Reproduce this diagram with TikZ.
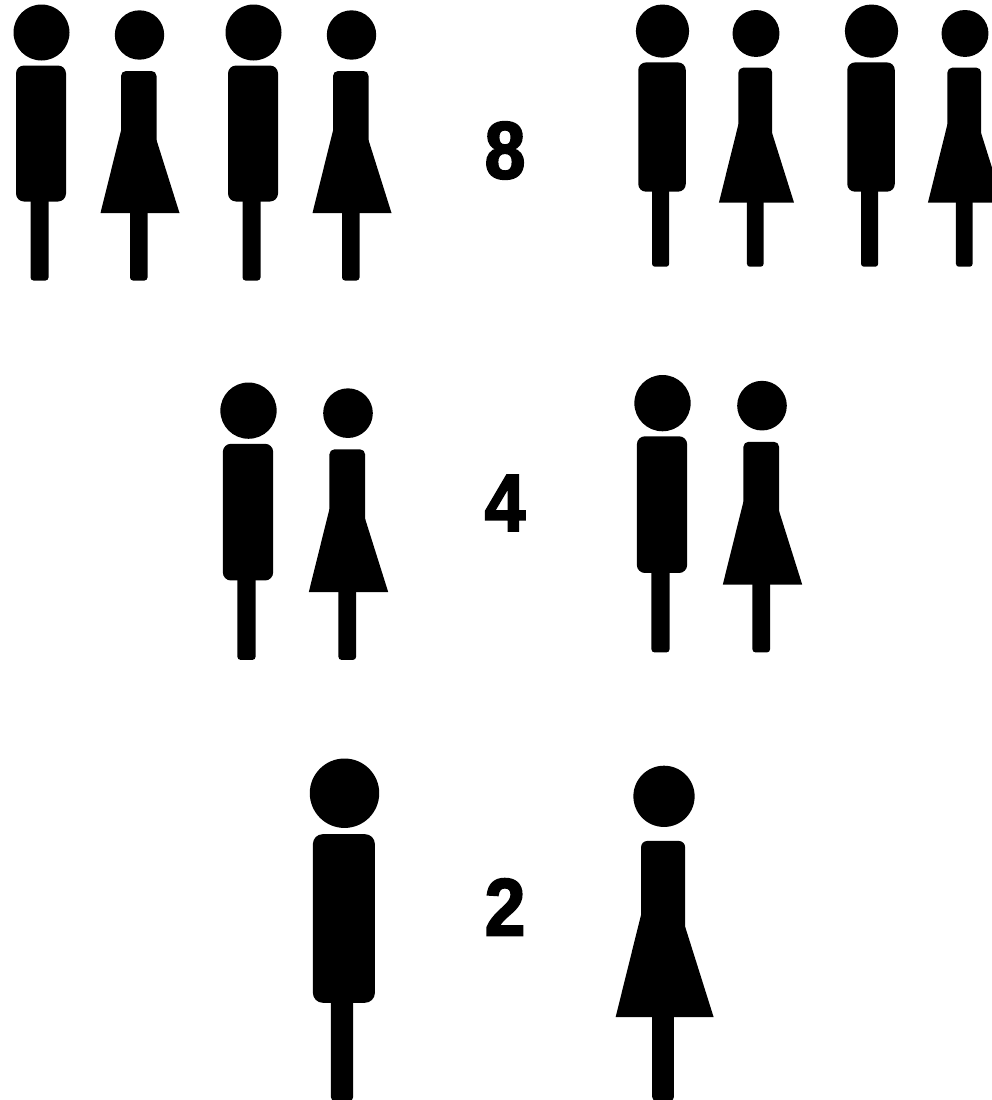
\documentclass[tikz,border=0pt]{standalone}
\usepackage{fontspec}
\newfontfamily\digitfont[FakeBold=2.5,FakeStretch=0.9]{Liberation Sans Bold}
\newcommand{\manfig}[3]{%
  \begin{scope}[shift={(#1,#2)},scale=#3]
    \pgfmathsetlengthmacro{\rA}{8*#3}
    \pgfmathsetlengthmacro{\rB}{3*#3}
    \fill[figure] (0,28) circle [radius=28];
    \fill[figure,rounded corners=\rA] (-25.5,61) rectangle (24.5,197);
    \fill[figure,rounded corners=\rB] (-11,190) rectangle (7,276);
  \end{scope}}
\newcommand{\womanfig}[3]{%
  \begin{scope}[shift={(#1,#2)},scale=#3]
    \pgfmathsetlengthmacro{\rA}{5*#3}
    \pgfmathsetlengthmacro{\rB}{3*#3}
    \fill[figure] (0,30.5) circle [radius=24.7];
    \fill[figure,rounded corners=\rA] (-18.5,66.5) rectangle (17,150);
    \fill[figure] (-39,208.5) -- (-18.5,126) -- (17,135.5) -- (40,208.5) -- cycle;
    \fill[figure,rounded corners=\rB] (-9.5,200) rectangle (8,276);
  \end{scope}}
\begin{document}
\begin{tikzpicture}[x=1pt,y=-1pt,
  figure/.style={black},
  digit/.style={inner sep=0pt,font=\digitfont\fontsize{81}{81}\selectfont}]
\useasboundingbox (0,0) rectangle (992,1100);
\fill[white] (0,0) rectangle (992,1100);
\clip (0,0) rectangle (992,1100);
% row 1
\manfig{41.5}{4.5}{1}
\womanfig{139.5}{4.5}{1}
\manfig{253.5}{4.5}{1}
\womanfig{351.5}{4.5}{1}
\manfig{662.5}{4.5}{0.95}
\womanfig{756}{4.5}{0.95}
\manfig{871.5}{4.5}{0.95}
\womanfig{965}{4.5}{0.95}
% row 2
\manfig{248.5}{382.5}{1.005}
\womanfig{348}{382.5}{1.005}
\manfig{662.5}{375}{1.005}
\womanfig{762}{375}{1.005}
% row 3
\manfig{344.5}{758.5}{1.24}
\womanfig{664}{758.5}{1.24}
% digits
\node[digit] (eight) at (505,150.5) {8};
\node[digit] (four) at (505,503) {4};
\node[digit] (two) at (505,907) {2};
\end{tikzpicture}
\end{document}
